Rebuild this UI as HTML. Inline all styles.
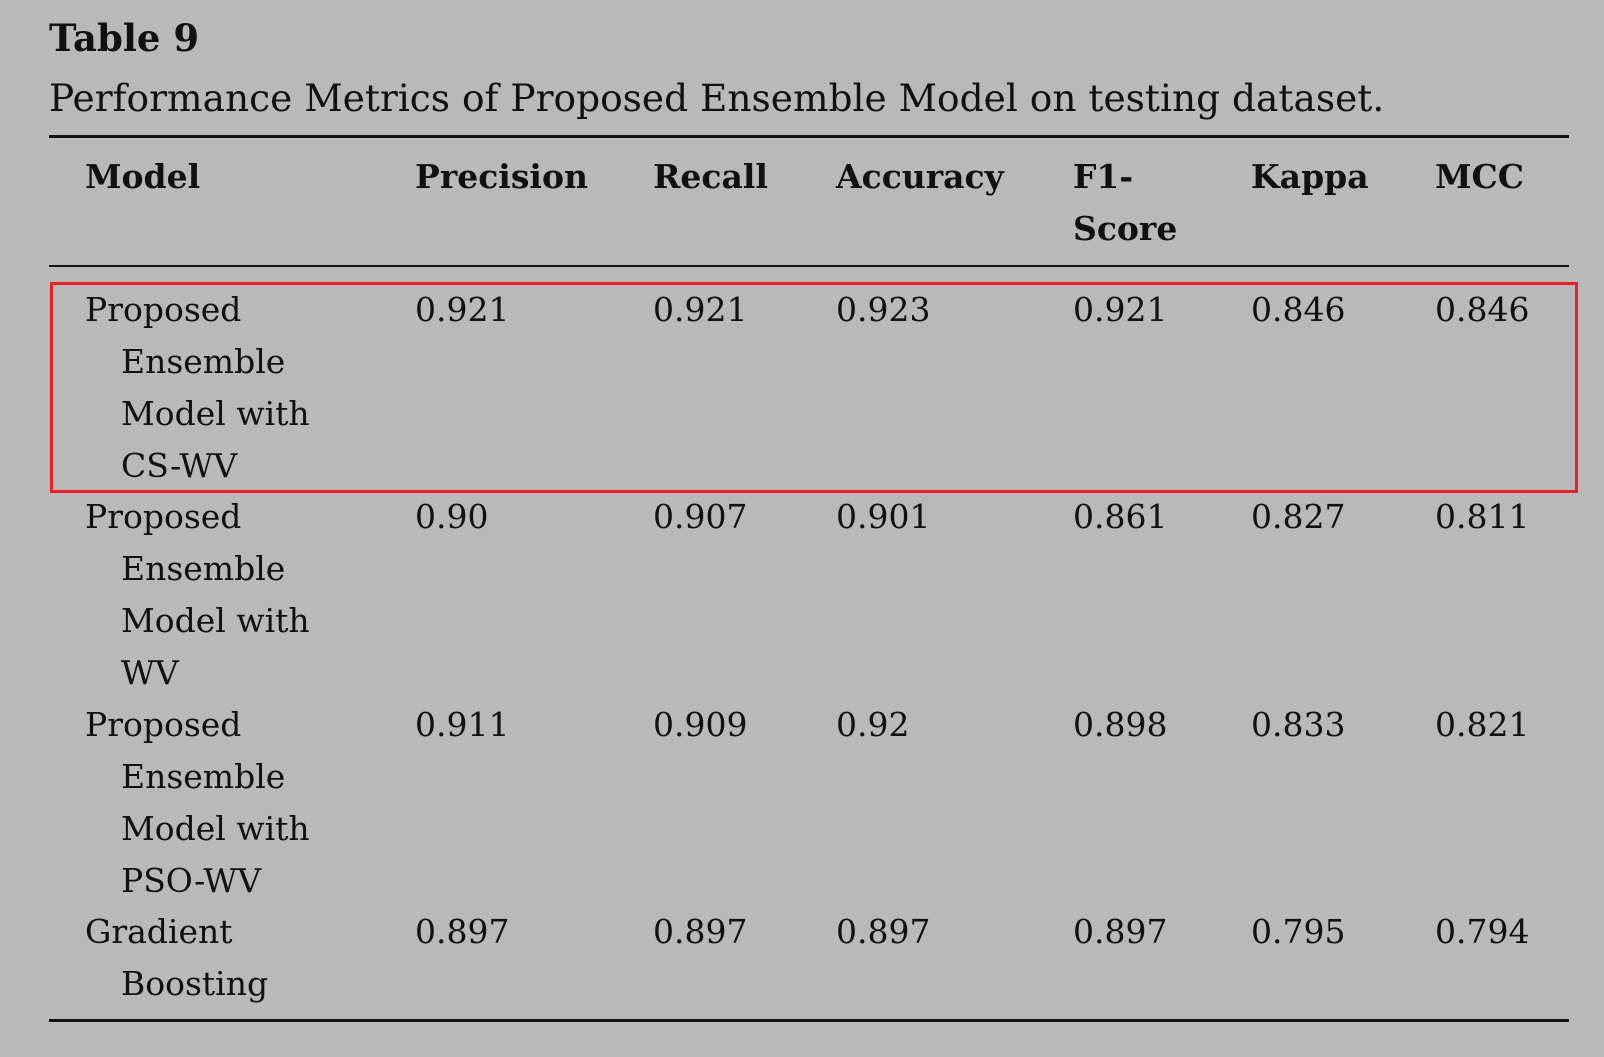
<!DOCTYPE html>
<html><head><meta charset="utf-8"><style>
body{margin:0;width:1604px;height:1057px;background:#b9b9b9;position:relative;overflow:hidden;font-family:"DejaVu Serif","Liberation Serif",serif;color:#111}
.t{position:absolute;white-space:nowrap}
.b{font-weight:bold}
.rule{position:absolute;left:49px;width:1520px;background:#111}
</style></head><body>
<div class="t b" style="left:49px;top:20px;font-size:37px;line-height:37px">Table 9</div>
<div class="t" style="left:49px;top:79px;font-size:37.5px;line-height:38px">Performance Metrics of Proposed Ensemble Model on testing dataset.</div>
<div class="rule" style="top:135px;height:3px"></div>
<div class="rule" style="top:265px;height:2px"></div>
<div class="rule" style="top:1019px;height:3px"></div>
<div style="position:absolute;left:50px;top:282px;width:1522px;height:205px;border:3px solid #e8202a"></div>
<div id="tbl"></div>
<script>
const headers=[["Model"],["Precision"],["Recall"],["Accuracy"],["F1-","Score"],["Kappa"],["MCC"]];
const models=[["Proposed","Ensemble","Model with","CS-WV"],["Proposed","Ensemble","Model with","WV"],["Proposed","Ensemble","Model with","PSO-WV"],["Gradient","Boosting"]];
const precision=["0.921","0.90","0.911","0.897"];
const recall=["0.921","0.907","0.909","0.897"];
const accuracy=["0.923","0.901","0.92","0.897"];
const f1=["0.921","0.861","0.898","0.897"];
const kappa=["0.846","0.827","0.833","0.795"];
const mcc=["0.846","0.811","0.821","0.794"];
const colX=[85,415,653,836,1073,1251,1435];
const rowTop=[321,528,736,943];
const lh=52;
const fs=33;
const root=document.getElementById('tbl');
function add(txt,x,base,bold,name){
  const d=document.createElement('div');
  d.className='t'+(bold?' b':'');
  d.style.fontSize=fs+'px';d.style.lineHeight=fs+'px';
  d.style.left=x+'px';d.style.top=(base-0.846*fs)+'px';
  d.textContent=txt;
  
  
  root.appendChild(d);
}
headers.forEach((h,i)=>h.forEach((s,j)=>add(s,colX[i],188+j*lh,true,'header-cell')));
const cols=[precision,recall,accuracy,f1,kappa,mcc];
models.forEach((m,r)=>{
  m.forEach((s,j)=>add(s,j?121:85,rowTop[r]+j*lh,false,'model-name-cell'));
  cols.forEach((c,ci)=>add(c[r],colX[ci+1],rowTop[r],false,'metric-cell'));
});
</script>
</body></html>
